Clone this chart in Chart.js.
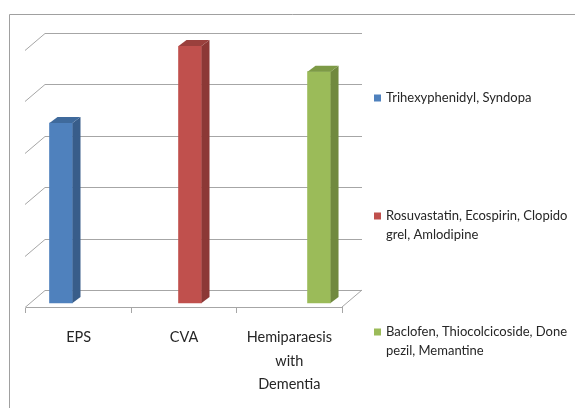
<!DOCTYPE html>
<html>
<head>
<meta charset="utf-8">
<script src="https://cdn.jsdelivr.net/npm/chart.js@4.4.1/dist/chart.umd.min.js"></script>
<style>
html, body { margin: 0; padding: 0; background: #fff; }
#wrap { position: relative; width: 575px; height: 408px; }
</style>
</head>
<body>
<div id="wrap"><canvas id="tedaviChart"></canvas></div>
<script>
// veriler
const categories = ['EPS', 'CVA', ['Hemiparaesis', 'with', 'Dementia']];
const seriesLines = [
    ['Trihexyphenidyl, Syndopa'],
    ['Rosuvastatin, Ecospirin, Clopido', 'grel, Amlodipine'],
    ['Baclofen, Thiocolcicoside, Done', 'pezil, Memantine']
];
const values = [3.5, 5, 4.5];
const gridValues = [0, 1, 2, 3, 4, 5];

const frontColors = ['#4f81bd', '#c0504d', '#9bbb59'];
const sideColors = ['#385d8a', '#8c3836', '#71893f'];
const topColors = ['#3f6a9c', '#9a403d', '#7d9a46'];

const gridColor = '#a6a6a6';
const textColor = '#262626';
const fontFamily = 'Lato, "Liberation Sans", sans-serif';

// 3B duvar ve sutun cizimi
const wallPlugin = {
    id: 'wall3d',
    beforeDraw(chart) {
        const ctx = chart.ctx;
        ctx.save();
        ctx.fillStyle = '#fff';
        ctx.fillRect(0, 0, chart.width, chart.height);
        ctx.strokeStyle = '#a0a0a0';
        ctx.lineWidth = 1;
        ctx.beginPath();
        ctx.moveTo(9.5, chart.height);
        ctx.lineTo(9.5, 14.5);
        ctx.lineTo(chart.width, 14.5);
        ctx.stroke();
        ctx.restore();
    },
    beforeDatasetsDraw(chart) {
        const ctx = chart.ctx;
        const area = chart.chartArea;
        const y = chart.scales.y;
        ctx.save();
        ctx.strokeStyle = gridColor;
        ctx.lineWidth = 1;
        ctx.beginPath();
        gridValues.forEach(v => {
            const py = Math.round(y.getPixelForValue(v)) + 0.5;
            ctx.moveTo(area.left - 1, py + 4);
            ctx.lineTo(area.left + 19, py - 13);
            ctx.lineTo(area.right + 20, py - 13);
        });
        ctx.moveTo(area.right, area.bottom);
        ctx.lineTo(area.right + 20, area.bottom - 17);
        ctx.stroke();
        ctx.restore();
    },
    afterDatasetsDraw(chart) {
        const ctx = chart.ctx;
        const dx = 8, dy = -6;
        ctx.save();
        chart.data.datasets.forEach((ds, i) => {
            const meta = chart.getDatasetMeta(i);
            meta.data.forEach(bar => {
                const l = bar.x - bar.width / 2;
                const r = bar.x + bar.width / 2;
                ctx.fillStyle = sideColors[i];
                ctx.beginPath();
                ctx.moveTo(r, bar.y);
                ctx.lineTo(r + dx, bar.y + dy);
                ctx.lineTo(r + dx, bar.base + dy);
                ctx.lineTo(r, bar.base);
                ctx.closePath();
                ctx.fill();
                ctx.fillStyle = topColors[i];
                ctx.beginPath();
                ctx.moveTo(l, bar.y);
                ctx.lineTo(l + dx, bar.y + dy);
                ctx.lineTo(r + dx, bar.y + dy);
                ctx.lineTo(r, bar.y);
                ctx.closePath();
                ctx.fill();
            });
        });
        ctx.restore();
    },
    afterDraw(chart) {
        // lejant
        const ctx = chart.ctx;
        const firstLineY = [98, 216, 332];
        ctx.save();
        ctx.font = '13px ' + fontFamily;
        ctx.textBaseline = 'middle';
        ctx.textAlign = 'left';
        seriesLines.forEach((lines, i) => {
            ctx.fillStyle = frontColors[i];
            ctx.fillRect(374, firstLineY[i] - 3.5, 7, 7);
            ctx.fillStyle = textColor;
            lines.forEach((t, k) => ctx.fillText(t, 386, firstLineY[i] + k * 18.5));
        });
        ctx.restore();
    }
};

const ctx = document.getElementById('tedaviChart').getContext('2d');
new Chart(ctx, {
    type: 'bar',
    data: {
        labels: categories,
        datasets: values.map((v, i) => ({
            label: seriesLines[i].join(''),
            data: [{ x: i, y: v }],
            xAxisID: 'xb',
            backgroundColor: frontColors[i],
            borderWidth: 0,
            barThickness: 23,
            grouped: false
        }))
    },
    options: {
        responsive: true,
        maintainAspectRatio: false,
        animation: false,
        layout: { padding: { top: 46, left: 26, right: 233, bottom: 0 } },
        plugins: {
            legend: { display: false },
            tooltip: { enabled: false }
        },
        scales: {
            x: {
                type: 'category',
                offset: true,
                grid: { offset: true, drawOnChartArea: false, drawTicks: true, tickLength: 6, color: gridColor },
                border: { display: true, color: gridColor },
                ticks: {
                    font: { family: fontFamily, size: 14.5, lineHeight: 1.615 },
                    color: textColor,
                    padding: 13,
                    maxRotation: 0,
                    autoSkip: false
                },
                afterFit: s => { s.height = 101; }
            },
            xb: {
                type: 'linear',
                display: false,
                offset: false,
                min: -0.2713,
                max: 2.178
            },
            y: {
                display: false,
                min: -0.078,
                max: 5
            }
        }
    },
    plugins: [wallPlugin]
});
</script>
</body>
</html>
